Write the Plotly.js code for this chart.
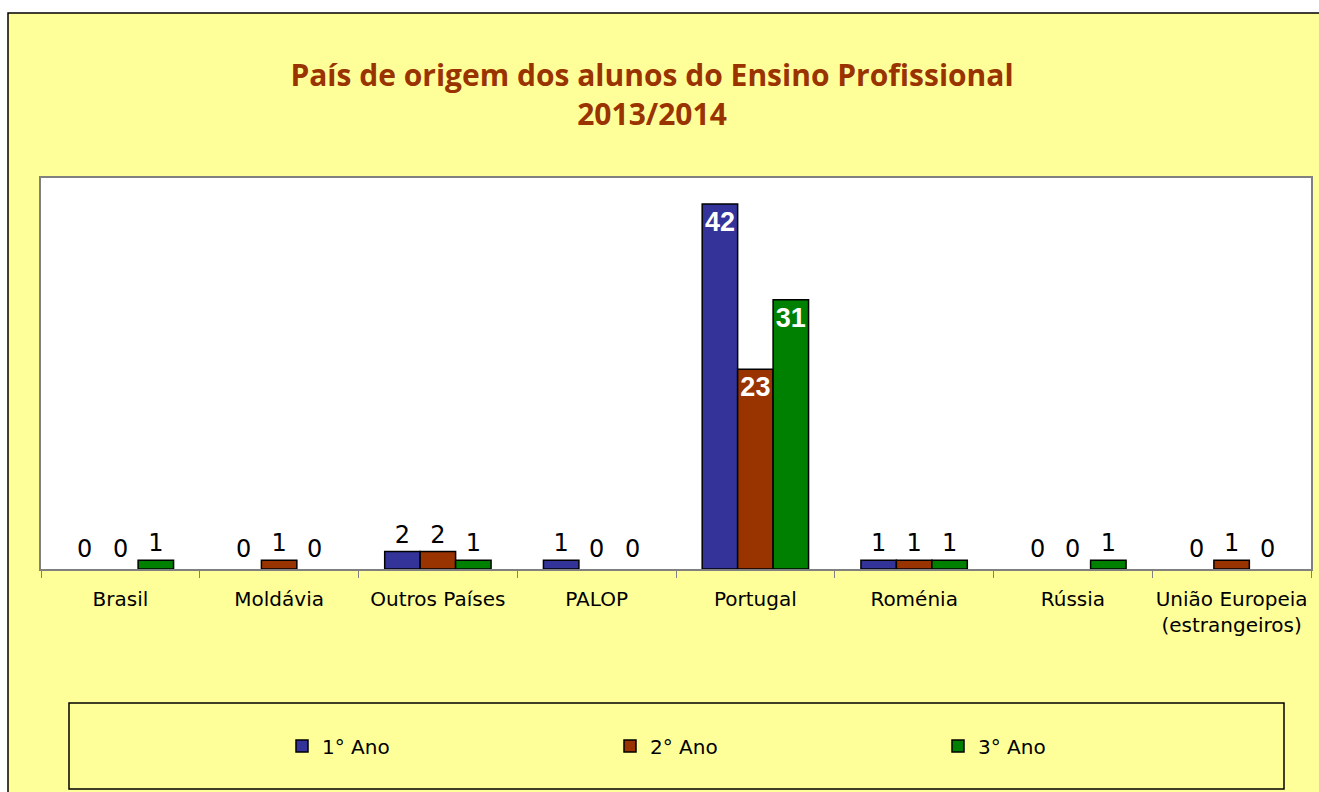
<!DOCTYPE html>
<html>
<head>
<meta charset="utf-8">
<script src="https://cdn.plot.ly/plotly-3.0.1.min.js"></script>
<style>html,body{margin:0;padding:0;background:#fff;}#chart{width:1319px;height:792px;}</style>
</head>
<body>
<div id="chart"></div>
<script>
// ---- data ----
const categories = ['Brasil', 'Moldávia', 'Outros Países', 'PALOP', 'Portugal', 'Roménia', 'Rússia', 'União Europeia<br>(estrangeiros)'];
const seriesNames = ['1° Ano', '2° Ano', '3° Ano'];
const ano1 = [0, 0, 2, 1, 42, 1, 0, 0];
const ano2 = [0, 1, 2, 0, 23, 1, 0, 1];
const ano3 = [1, 0, 1, 0, 31, 1, 1, 0];
const titleText = 'País de origem dos alunos do Ensino Profissional<br>2013/2014';

// ---- layout geometry ----
const W = 1319, Hh = 792;
const L = 41, R = 1311, T = 178, B = 569;
const px2x = px => (px - L) / (R - L);
const py2y = py => (B - py) / (B - T);
const BARGAP = 0.33;
const catWidthPx = (R - L) / categories.length;
const barWidthPx = catWidthPx * (1 - BARGAP) / 3;

const colors = ['#333399', '#993300', '#008000'];
const seriesData = [ano1, ano2, ano3];

const traces = seriesData.map((vals, i) => ({
  type: 'bar',
  name: seriesNames[i],
  x: categories,
  // zero values get no bar (their "0" label is drawn as an annotation below)
  y: vals.map(v => v === 0 ? null : v),
  text: vals.map(v => v === 0 ? '' : String(v)),
  textposition: vals.map(v => v > 5 ? 'inside' : 'outside'),
  textangle: 0,
  insidetextanchor: 'end',
  constraintext: 'none',
  cliponaxis: false,
  insidetextfont: {family: 'Liberation Sans, Arial, sans-serif', size: 27, color: '#ffffff', weight: 'bold'},
  outsidetextfont: {family: 'DejaVu Sans, sans-serif', size: 24, color: '#000000'},
  marker: {color: colors[i], line: {color: '#000000', width: 1.5}},
  hoverinfo: 'x+y+name'
}));

// labels for zero-valued bars
const zeroAnnotations = [];
seriesData.forEach((vals, i) => {
  vals.forEach((v, j) => {
    if (v === 0) {
      zeroAnnotations.push({
        x: categories[j], y: 0, xref: 'x', yref: 'y',
        text: '0', showarrow: false,
        xanchor: 'center', yanchor: 'bottom',
        xshift: (i - 1) * barWidthPx, yshift: 4,
        font: {family: 'DejaVu Sans, sans-serif', size: 24, color: '#000000'}
      });
    }
  });
});

const layout = {
  width: W, height: Hh,
  margin: {l: L, r: W - R, t: T, b: Hh - B, pad: 0},
  paper_bgcolor: '#ffffff',
  plot_bgcolor: '#ffffff',
  barmode: 'group',
  bargap: BARGAP,
  bargroupgap: 0,
  title: {
    text: titleText,
    font: {family: 'Open Sans, sans-serif', size: 30, color: '#993300', weight: 'bold'},
    xref: 'container', yref: 'container',
    x: 652 / W, xanchor: 'center',
    y: 1 - 86 / Hh, yanchor: 'top'
  },
  font: {family: 'DejaVu Sans, sans-serif', size: 20, color: '#000000'},
  xaxis: {
    type: 'category',
    categoryarray: categories, categoryorder: 'array',
    showline: true, mirror: true, linecolor: '#808080', linewidth: 2,
    ticks: 'outside', tickson: 'boundaries', ticklen: 7, tickcolor: '#808080', tickwidth: 1,
    tickangle: 0, ticklabelstandoff: 11,
    tickfont: {family: 'DejaVu Sans, sans-serif', size: 20, color: '#000000'},
    showgrid: false, zeroline: false, fixedrange: true
  },
  yaxis: {
    range: [0, 45],
    showticklabels: false, ticks: '',
    showgrid: false, zeroline: false,
    showline: true, mirror: true, linecolor: '#808080', linewidth: 2,
    fixedrange: true
  },
  showlegend: true,
  legend: {
    orientation: 'h',
    xref: 'container', yref: 'container',
    x: 282 / W, xanchor: 'left',
    y: 1 - 746 / Hh, yanchor: 'middle',
    bgcolor: 'rgba(0,0,0,0)', borderwidth: 0,
    entrywidth: 283, entrywidthmode: 'pixels',
    font: {family: 'DejaVu Sans, sans-serif', size: 20, color: '#000000'},
    traceorder: 'normal'
  },
  annotations: zeroAnnotations,
  shapes: [
    {type: 'rect', xref: 'paper', yref: 'paper', layer: 'below',
     x0: px2x(8), x1: px2x(1340), y0: py2y(820), y1: py2y(13),
     fillcolor: '#FFFF99', line: {color: '#000000', width: 1.5}},
    {type: 'rect', xref: 'paper', yref: 'paper', layer: 'below',
     x0: 0, x1: 1, y0: 0, y1: 1,
     fillcolor: '#ffffff', line: {width: 0}},
    {type: 'rect', xref: 'paper', yref: 'paper', layer: 'below',
     x0: px2x(69), x1: px2x(1284), y0: py2y(789), y1: py2y(703),
     fillcolor: 'rgba(0,0,0,0)', line: {color: '#000000', width: 1.5}}
  ]
};

Plotly.newPlot('chart', traces, layout, {displayModeBar: false, staticPlot: true});
</script>
</body>
</html>
